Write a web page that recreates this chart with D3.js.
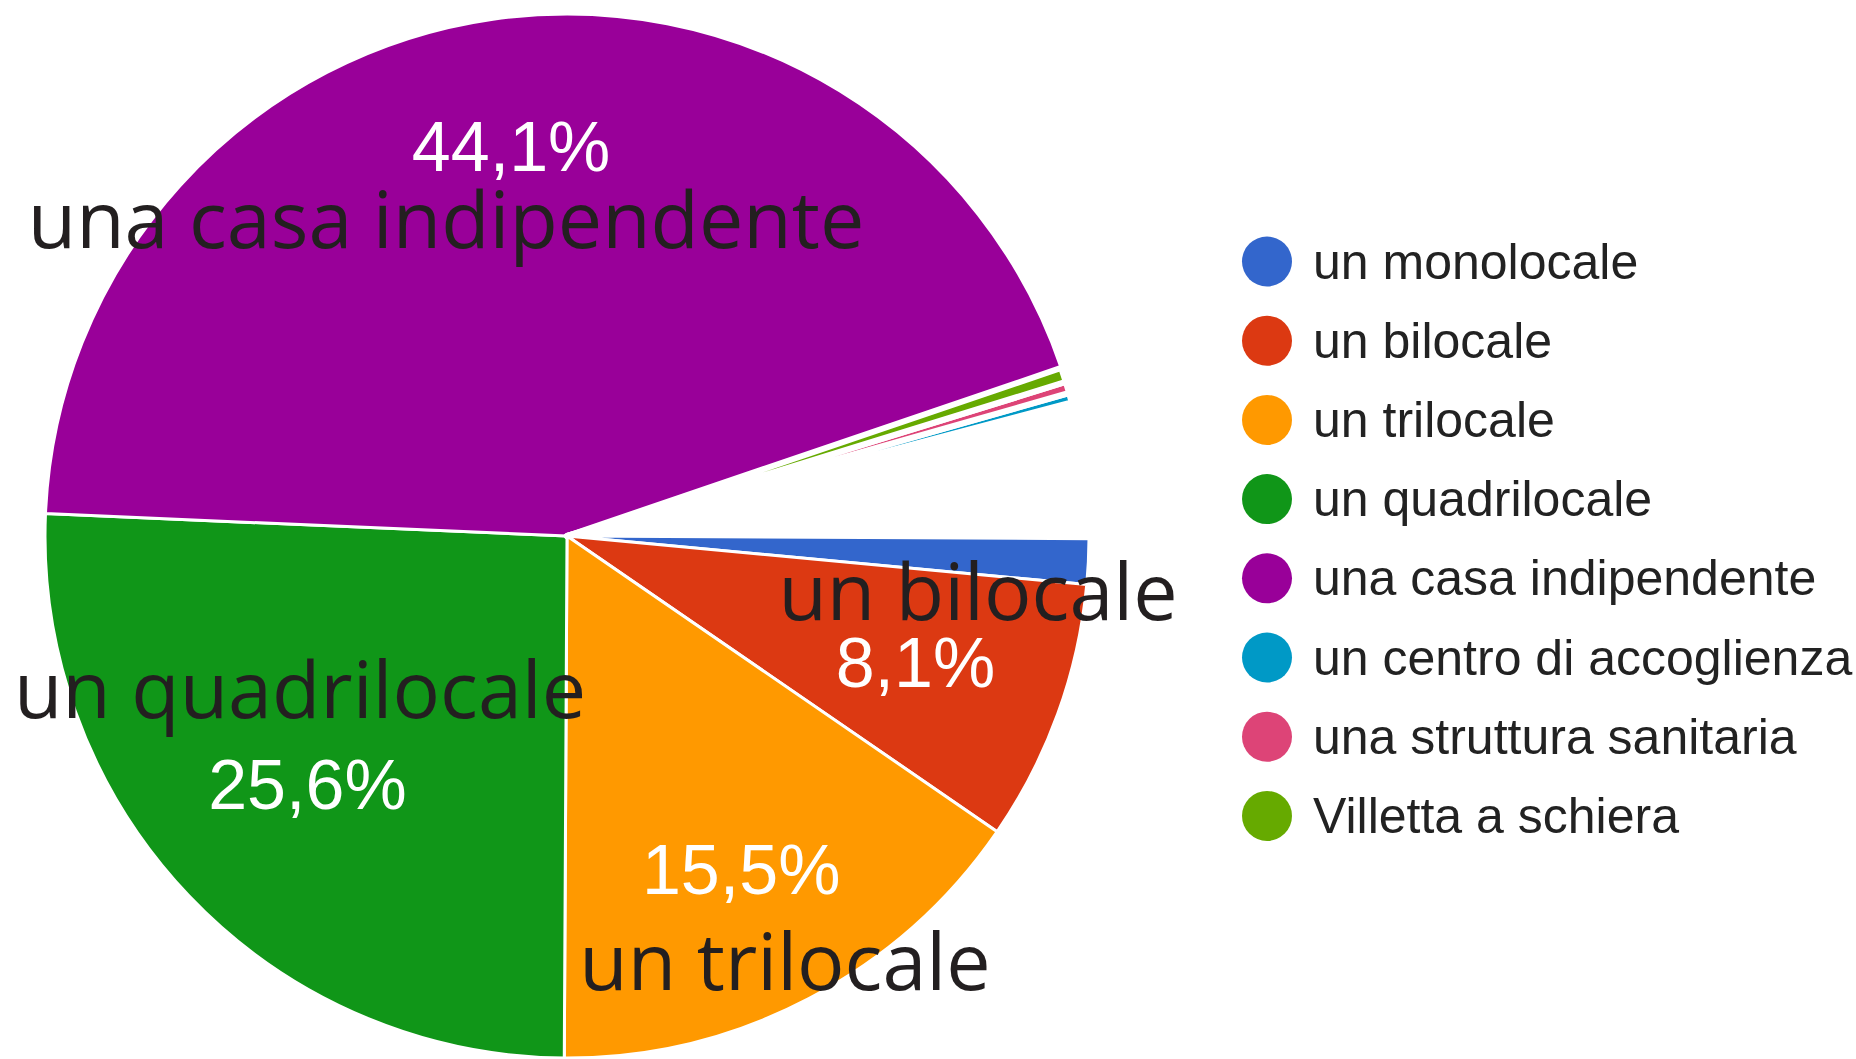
<!DOCTYPE html>
<html>
<head>
<meta charset="utf-8">
<script src="https://cdn.jsdelivr.net/npm/d3@7"></script>
<style>
    html, body { margin: 0; padding: 0; background: #fff; }
    svg { display: block; }
</style>
</head>
<body>
<svg id="chart"></svg>
<script>
// Legend categories (legend order)
const categories = [
    'un monolocale',
    'un bilocale',
    'un trilocale',
    'un quadrilocale',
    'una casa indipendente',
    'un centro di accoglienza',
    'una struttura sanitaria',
    'Villetta a schiera'
];

// Share of answers, percent
const shares = [1.4, 8.1, 15.5, 25.6, 44.1, 0.3, 0.35, 0.45];

// Google chart palette
const colors = ['#3366cc', '#dc3912', '#ff9900', '#109618', '#990099', '#0099c6', '#dd4477', '#66aa00'];

// Order in which the slices run clockwise
const sliceOrder = [0, 1, 2, 3, 4, 7, 6, 5];

// Big category names written over the pie
const bigNames = ['una casa indipendente', 'un bilocale', 'un quadrilocale', 'un trilocale'];

// Layout
const width = 1856, height = 1059;
const cx = 567, cy = 536, radius = 522;
const startDeg = 90.3;
const toRad = Math.PI / 180;

// where the percent labels sit, as fraction of the radius
const pctRadius = { 1: 0.71, 2: 0.72, 3: 0.687, 4: 0.755 };
// where the big names sit (centre x, baseline y)
const bigNamePos = {
    'una casa indipendente': [446, 248],
    'un bilocale': [978, 620],
    'un quadrilocale': [300, 718],
    'un trilocale': [785, 990]
};

const svg = d3.select('#chart')
    .attr('width', width)
    .attr('height', height);

svg.append('rect')
    .attr('width', width)
    .attr('height', height)
    .attr('fill', '#fff');

// Pie covers only the answered share of the circle
const total = d3.sum(shares);
const pie = d3.pie()
    .value(i => shares[i])
    .sort((a, b) => sliceOrder.indexOf(a) - sliceOrder.indexOf(b))
    .startAngle(startDeg * toRad)
    .endAngle((startDeg + 3.6 * total) * toRad);

const arcs = pie(d3.range(categories.length));
const arc = d3.arc().innerRadius(0).outerRadius(radius);

const pieG = svg.append('g')
    .attr('transform', `translate(${cx},${cy})`);

pieG.selectAll('path.slice')
    .data(arcs)
    .enter()
    .append('path')
    .attr('class', 'slice')
    .attr('d', arc)
    .attr('fill', d => colors[d.data])
    .attr('stroke', '#fff')
    .attr('stroke-width', d => shares[d.data] < 1 ? 6 : 3)
    .attr('stroke-linejoin', 'round');

// Percent labels
const fmt = d3.format('.1f');
pieG.selectAll('text.pct')
    .data(arcs.filter(d => shares[d.data] > 5))
    .enter()
    .append('text')
    .attr('class', 'pct')
    .attr('transform', d => {
        const r = radius * (pctRadius[d.data] || 0.72);
        const c = d3.arc().innerRadius(r).outerRadius(r).centroid(d);
        return `translate(${c[0]},${c[1]})`;
    })
    .attr('dy', '0.36em')
    .attr('text-anchor', 'middle')
    .style('font-family', '"Liberation Sans", Arial, sans-serif')
    .style('font-size', '70px')
    .attr('fill', '#fff')
    .text(d => fmt(shares[d.data]).replace('.', ',') + '%');

// Big names over the pie
svg.selectAll('text.big')
    .data(bigNames)
    .enter()
    .append('text')
    .attr('class', 'big')
    .attr('x', d => bigNamePos[d][0])
    .attr('y', d => bigNamePos[d][1])
    .attr('text-anchor', 'middle')
    .style('font-family', '"Open Sans", sans-serif')
    .style('font-size', '79px')
    .attr('fill', '#231f20')
    .text(d => d);

// Legend
const legend = svg.append('g')
    .attr('transform', 'translate(1267,261.5)');

const rows = legend.selectAll('g.row')
    .data(categories)
    .enter()
    .append('g')
    .attr('class', 'row')
    .attr('transform', (d, i) => `translate(0,${i * 79.2})`);

rows.append('circle')
    .attr('r', 25)
    .attr('fill', (d, i) => colors[i]);

rows.append('text')
    .attr('x', 46)
    .attr('dy', '0.34em')
    .style('font-family', '"Liberation Sans", Arial, sans-serif')
    .style('font-size', '50px')
    .attr('fill', '#222')
    .text(d => d);
</script>
</body>
</html>
